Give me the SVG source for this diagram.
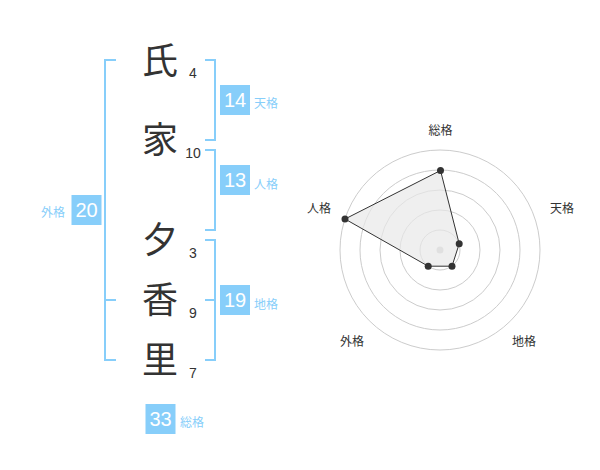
<svg xmlns="http://www.w3.org/2000/svg" width="600" height="470" viewBox="0 0 600 470">
<style>
.k{font-family:"Noto Sans CJK JP","Noto Sans CJK SC",sans-serif;font-size:36px;fill:#333;text-anchor:middle}
.n{font-family:"Liberation Sans",Arial,sans-serif;font-size:14px;fill:#333;text-anchor:middle}
.bx{fill:#87cefa}
.bt{font-family:"Liberation Sans",Arial,sans-serif;font-size:20px;fill:#fff;text-anchor:middle}
.lb{font-family:"Noto Sans CJK JP","Noto Sans CJK SC",sans-serif;font-size:12px;fill:#87cefa}
.br{fill:none;stroke:#87cefa;stroke-width:2}
.ring{fill:none;stroke:#ccc;stroke-width:1}
.rl{font-family:"Noto Sans CJK JP","Noto Sans CJK SC",sans-serif;font-size:12px;fill:#333;text-anchor:middle}
.dot{fill:#333}
</style>
<rect width="600" height="470" fill="#fff"/>
<g id="chars">
<text class="k" x="160" y="74">氏</text>
<text class="k" x="160" y="153">家</text>
<text class="k" x="160" y="253">夕</text>
<text class="k" x="160" y="313">香</text>
<text class="k" x="160" y="373">里</text>
</g>
<g id="strokes">
<text class="n" x="193" y="78">4</text>
<text class="n" x="193" y="158">10</text>
<text class="n" x="193" y="258">3</text>
<text class="n" x="193" y="318">9</text>
<text class="n" x="193" y="378">7</text>
</g>
<g id="connectors">
<path class="br" d="M116,60 H105 V360 H116 M105,300 H116"/>
<path class="br" d="M205,60 H215 V140 H205"/>
<path class="br" d="M205,150 H215 V230 H205"/>
<path class="br" d="M205,240 H215 V360 H205 M215,300 H205"/>
</g>
<g id="tenkaku">
<rect class="bx" x="220" y="85" width="30" height="30"/>
<text class="bt" x="235" y="107">14</text>
<text class="lb" x="254" y="108">天格</text>
</g>
<g id="jinkaku">
<rect class="bx" x="220" y="165" width="30" height="30"/>
<text class="bt" x="235" y="187">13</text>
<text class="lb" x="254" y="189">人格</text>
</g>
<g id="chikaku">
<rect class="bx" x="220" y="285" width="30" height="30"/>
<text class="bt" x="235" y="307">19</text>
<text class="lb" x="254" y="309">地格</text>
</g>
<g id="gaikaku">
<rect class="bx" x="71.5" y="195" width="30" height="30"/>
<text class="bt" x="86.5" y="217">20</text>
<text class="lb" x="41" y="217">外格</text>
</g>
<g id="soukaku">
<rect class="bx" x="145.5" y="404" width="30" height="30"/>
<text class="bt" x="160.5" y="426">33</text>
<text class="lb" x="180" y="427">総格</text>
</g>
<g id="radar">
<circle class="ring" cx="440" cy="250" r="20"/>
<circle class="ring" cx="440" cy="250" r="40"/>
<circle class="ring" cx="440" cy="250" r="60"/>
<circle class="ring" cx="440" cy="250" r="80"/>
<circle class="ring" cx="440" cy="250" r="100"/>
<circle cx="440" cy="250" r="3.5" fill="#ccc"/>
<polygon points="440.5,170.5 459.2,243.8 452,266.2 428.2,266.2 345,219" fill="#e8e8e8" fill-opacity="0.7" stroke="#333" stroke-width="1"/>
<circle class="dot" cx="440.5" cy="170.5" r="3.5"/>
<circle class="dot" cx="459.2" cy="243.8" r="3.5"/>
<circle class="dot" cx="452" cy="266.2" r="3.5"/>
<circle class="dot" cx="428.2" cy="266.2" r="3.5"/>
<circle class="dot" cx="345" cy="219" r="3.5"/>
<text class="rl" x="440.5" y="135">総格</text>
<text class="rl" x="562" y="213">天格</text>
<text class="rl" x="524" y="346">地格</text>
<text class="rl" x="352" y="346">外格</text>
<text class="rl" x="319" y="213">人格</text>
</g>
</svg>
